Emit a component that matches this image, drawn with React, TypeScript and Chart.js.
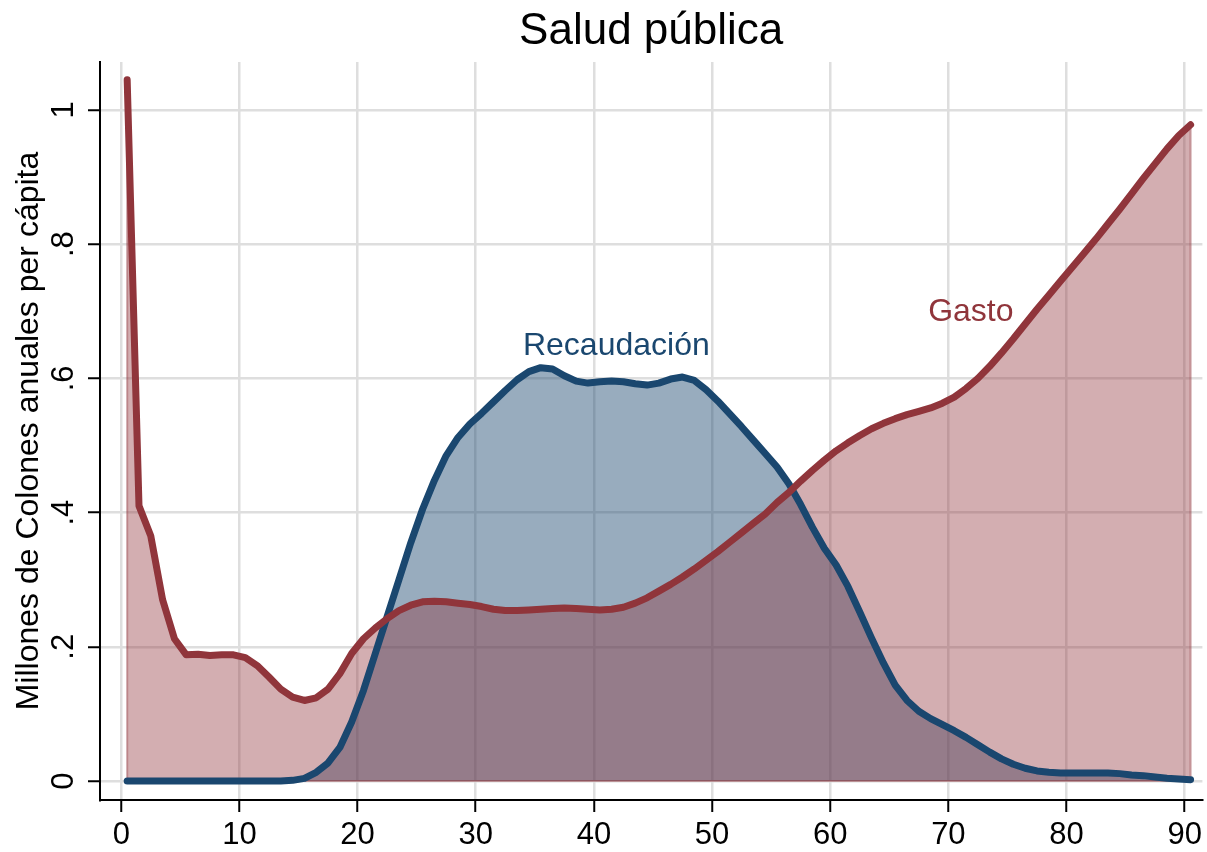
import React, { useEffect, useRef } from 'react';
import { Chart, registerables } from 'chart.js';

Chart.register(...registerables);

// Age (years) at which each value is observed
const AGES = [
  0.5, 1.5, 2.5, 3.5, 4.5, 5.5, 6.5, 7.5, 8.5, 9.5,
  10.5, 11.5, 12.5, 13.5, 14.5, 15.5, 16.5, 17.5, 18.5, 19.5,
  20.5, 21.5, 22.5, 23.5, 24.5, 25.5, 26.5, 27.5, 28.5, 29.5,
  30.5, 31.5, 32.5, 33.5, 34.5, 35.5, 36.5, 37.5, 38.5, 39.5,
  40.5, 41.5, 42.5, 43.5, 44.5, 45.5, 46.5, 47.5, 48.5, 49.5,
  50.5, 51.5, 52.5, 53.5, 54.5, 55.5, 56.5, 57.5, 58.5, 59.5,
  60.5, 61.5, 62.5, 63.5, 64.5, 65.5, 66.5, 67.5, 68.5, 69.5,
  70.5, 71.5, 72.5, 73.5, 74.5, 75.5, 76.5, 77.5, 78.5, 79.5,
  80.5, 81.5, 82.5, 83.5, 84.5, 85.5, 86.5, 87.5, 88.5, 89.5,
  90.5,
];

const GASTO = [
  1.045, 0.41, 0.365, 0.27, 0.212, 0.188, 0.189, 0.187, 0.188, 0.188,
  0.184, 0.172, 0.155, 0.137, 0.125, 0.12, 0.124, 0.137, 0.16, 0.19,
  0.212, 0.228, 0.242, 0.254, 0.262, 0.267, 0.268, 0.267, 0.265, 0.263,
  0.26, 0.256, 0.254, 0.254, 0.255, 0.256, 0.257, 0.258, 0.257, 0.256,
  0.255, 0.256, 0.259, 0.265, 0.273, 0.283, 0.293, 0.304, 0.316, 0.329,
  0.342, 0.356, 0.37, 0.384, 0.398, 0.415, 0.43, 0.447, 0.463, 0.478,
  0.492, 0.504, 0.515, 0.525, 0.533, 0.54, 0.546, 0.551, 0.556, 0.563,
  0.572, 0.585, 0.6, 0.618, 0.638, 0.659, 0.681, 0.703, 0.724, 0.745,
  0.766, 0.787, 0.808, 0.83, 0.852, 0.875, 0.898, 0.92, 0.942, 0.962,
  0.978,
];

const RECAUDACION = [
  0, 0, 0, 0, 0, 0, 0, 0, 0, 0,
  0, 0, 0, 0, 0.001, 0.004, 0.013, 0.027, 0.05, 0.088,
  0.135, 0.19, 0.245, 0.3, 0.355, 0.405, 0.448, 0.485, 0.512, 0.532,
  0.548, 0.565, 0.582, 0.598, 0.61, 0.616, 0.614, 0.604, 0.596, 0.593,
  0.595, 0.596, 0.595, 0.592, 0.59, 0.593, 0.599, 0.602, 0.597, 0.583,
  0.566, 0.547, 0.528, 0.508, 0.488, 0.468, 0.443, 0.412, 0.378, 0.347,
  0.322, 0.29, 0.252, 0.213, 0.176, 0.143, 0.12, 0.104, 0.093, 0.084,
  0.075, 0.065, 0.054, 0.043, 0.033, 0.025, 0.019, 0.015, 0.013, 0.012,
  0.012, 0.012, 0.012, 0.012, 0.011, 0.009, 0.008, 0.006, 0.004, 0.003,
  0.002,
];

const X_TICKS = [0, 10, 20, 30, 40, 50, 60, 70, 80, 90];
const Y_TICKS = [0, 0.2, 0.4, 0.6, 0.8, 1];
const Y_TICK_LABELS = ['0', '.2', '.4', '.6', '.8', '1'];

const TITLE = 'Salud pública';
const Y_TITLE = 'Millones de Colones anuales per cápita';
const SERIES_NAMES = ['Gasto', 'Recaudación'];
// in-plot labels: text, x (age), y (value)
const LABEL_TEXTS = ['Recaudación', 'Gasto'];
const LABEL_X = [41.9, 71.9];
const LABEL_Y = [0.648, 0.699];

const RED = 'rgb(144,53,59)';
const BLUE = 'rgb(26,71,111)';
const RED_FILL = 'rgba(144,53,59,0.4)';
const RED_EDGE = 'rgba(144,53,59,0.45)';
const BLUE_FILL = 'rgba(26,71,111,0.45)';
const LABEL_COLORS = [BLUE, RED];
const FONT = '"Liberation Sans", Arial, Helvetica, sans-serif';

export default function App() {
  const ref = useRef<HTMLCanvasElement | null>(null);

  useEffect(() => {
    document.body.style.margin = '0';
    const canvas = ref.current;
    if (!canvas) return;

    const edgePlugin = {
      id: 'areaEdge',
      beforeDatasetsDraw(chart: any) {
        const { ctx, scales } = chart;
        const x0 = scales.x.getPixelForValue(AGES[0]);
        const x1 = scales.x.getPixelForValue(AGES[AGES.length - 1]);
        const yb = scales.y.getPixelForValue(0);
        ctx.save();
        ctx.strokeStyle = RED_EDGE;
        ctx.lineWidth = 2;
        ctx.beginPath();
        ctx.moveTo(x0, scales.y.getPixelForValue(GASTO[0]));
        ctx.lineTo(x0, yb);
        ctx.lineTo(x1, yb);
        ctx.lineTo(x1, scales.y.getPixelForValue(GASTO[GASTO.length - 1]));
        ctx.stroke();
        ctx.restore();
      },
    };

    const labelPlugin = {
      id: 'inlineLabels',
      afterDatasetsDraw(chart: any) {
        const { ctx, scales } = chart;
        ctx.save();
        ctx.font = `32px ${FONT}`;
        ctx.textAlign = 'center';
        ctx.textBaseline = 'middle';
        LABEL_TEXTS.forEach((t, i) => {
          ctx.fillStyle = LABEL_COLORS[i];
          ctx.fillText(t, scales.x.getPixelForValue(LABEL_X[i]), scales.y.getPixelForValue(LABEL_Y[i]));
        });
        ctx.restore();
      },
    };

    const chart = new Chart(canvas, {
      type: 'line',
      data: {
        datasets: [
          {
            label: SERIES_NAMES[0],
            data: AGES.map((a, i) => ({ x: a, y: GASTO[i] })),
            borderColor: RED,
            backgroundColor: RED_FILL,
            fill: 'origin',
            borderWidth: 7,
            pointRadius: 0,
            tension: 0,
            borderCapStyle: 'round',
            borderJoinStyle: 'round',
          },
          {
            label: SERIES_NAMES[1],
            data: AGES.map((a, i) => ({ x: a, y: RECAUDACION[i] })),
            borderColor: BLUE,
            backgroundColor: BLUE_FILL,
            fill: 'origin',
            borderWidth: 7,
            pointRadius: 0,
            tension: 0,
            borderCapStyle: 'round',
            borderJoinStyle: 'round',
          },
        ],
      },
      options: {
        responsive: false,
        animation: false,
        devicePixelRatio: 1,
        layout: { padding: { top: 0, right: 1, bottom: 0, left: 0 } },
        plugins: {
          legend: { display: false },
          tooltip: { enabled: false },
          filler: { drawTime: 'beforeDatasetsDraw' },
          title: {
            display: true,
            text: TITLE,
            fullSize: false,
            color: '#000',
            font: { family: FONT, size: 44, weight: 'normal' },
            padding: { top: 5, bottom: 4.2 },
          },
        },
        scales: {
          x: {
            type: 'linear',
            min: -1.8,
            max: 91.5,
            afterBuildTicks: (s: any) => {
              s.ticks = X_TICKS.map((v) => ({ value: v }));
            },
            afterFit: (s: any) => {
              s.height = 52;
            },
            grid: {
              color: '#dedede',
              lineWidth: 2.5,
              tickColor: '#000',
              tickWidth: 2,
              tickLength: 12,
            },
            border: { color: '#000', width: 2 },
            ticks: {
              color: '#000',
              font: { family: FONT, size: 31 },
              padding: 5,
              maxRotation: 0,
              minRotation: 0,
              callback: (v: any) => String(v),
            },
          },
          y: {
            type: 'linear',
            min: -0.0283,
            max: 1.0715,
            afterBuildTicks: (s: any) => {
              s.ticks = Y_TICKS.map((v) => ({ value: v }));
            },
            afterFit: (s: any) => {
              s.width = 100;
            },
            grid: {
              color: '#dedede',
              lineWidth: 2.5,
              tickColor: '#000',
              tickWidth: 2,
              tickLength: 12,
            },
            border: { color: '#000', width: 2 },
            ticks: {
              color: '#000',
              font: { family: FONT, size: 31 },
              padding: 11,
              crossAlign: 'center',
              minRotation: 90,
              maxRotation: 90,
              callback: (v: any) => {
                const idx = Y_TICKS.findIndex((t) => Math.abs(t - v) < 1e-9);
                return idx >= 0 ? Y_TICK_LABELS[idx] : '';
              },
            },
            title: {
              display: true,
              text: Y_TITLE,
              color: '#000',
              font: { family: FONT, size: 32 },
              padding: { top: 10, bottom: 0 },
            },
          },
        },
      },
      plugins: [edgePlugin, labelPlugin],
    } as any);

    return () => chart.destroy();
  }, []);

  return (
    <div style={{ width: 1207, height: 852, background: '#fff' }}>
      <canvas ref={ref} width={1207} height={852} style={{ display: 'block' }} />
    </div>
  );
}
